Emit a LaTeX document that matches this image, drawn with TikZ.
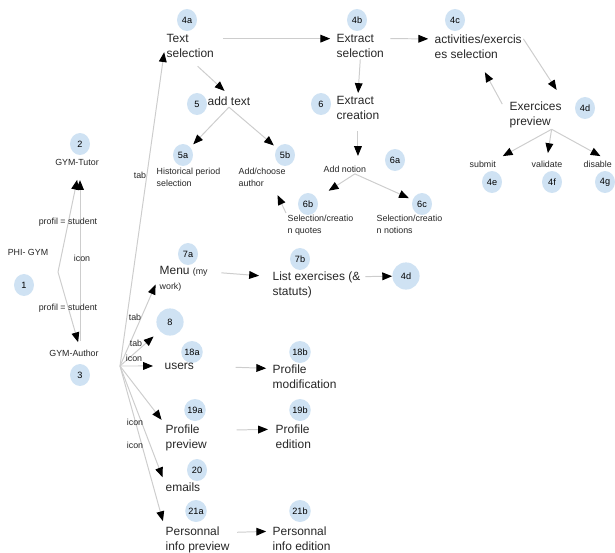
\documentclass[tikz,border=0pt]{standalone}
\usepackage{fontspec}
\setmainfont{Liberation Sans}
\usetikzlibrary{arrows.meta,shapes.geometric,backgrounds}
\definecolor{gymBlue}{RGB}{207,226,243}
\definecolor{gymGray}{RGB}{205,205,205}
\newcommand{\gymsmall}{\fontsize{6.3}{8}\selectfont}
\begin{document}
\begin{tikzpicture}[
    x=0.025cm,y=-0.025cm,
    gymBadge/.style={ellipse,fill=gymBlue,minimum width=0.5cm,minimum height=0.55cm,inner sep=0pt,font=\fontsize{6.5}{7}\selectfont},
    gymBig/.style={circle,fill=gymBlue,minimum size=0.68cm,inner sep=0pt,font=\fontsize{6.5}{7}\selectfont},
    gymText/.style={anchor=north west,align=left,inner sep=1pt,text=black!85,font=\fontsize{8.5}{10.5}\selectfont},
    gymSmall/.style={anchor=north west,align=left,inner sep=1pt,text=black!85,font=\fontsize{6.3}{8.5}\selectfont},
    gymLbl/.style={inner sep=0.5pt,text=black!85,font=\gymsmall},
    gymArrow/.style={draw=gymGray,line width=0.7pt,-{Triangle[length=7pt,width=5.5pt,color=black]}},
]
\useasboundingbox (0,0) rectangle (615,552);
% left: entry point and the two profiles
\node[gymLbl] (gymPhiLbl) at (28,252) {PHI- GYM};
\node[gymBadge] (gymB1) at (24,285) {1};
\node[gymBadge] (gymB2) at (80,144) {2};
\node[gymLbl] (gymTutor) at (77,162) {GYM-Tutor};
\node[gymLbl] (gymAuthor) at (74,353) {GYM-Author};
\node[gymBadge] (gymB3) at (80,375) {3};
\coordinate (gymPhi) at (58,272);
\coordinate (gymHub) at (120,366);
% top row
\node[gymText] (gymTextSel) at (165,33) {Text\\selection};
\node[gymBadge] (gymB4a) at (187,20) {4a};
\node[gymText] (gymExtractSel) at (335,33) {Extract\\selection};
\node[gymBadge] (gymB4b) at (357,20) {4b};
\node[gymText] (gymActSel) at (433,33) {activities/exercis\\es selection};
\node[gymBadge] (gymB4c) at (455,20) {4c};
\node[gymText] (gymPreview) at (508,100) {Exercices\\preview};
\node[gymBadge] (gymB4d) at (585,108) {4d};
\node[gymSmall] (gymSubmit) at (468,159) {submit};
\node[gymSmall] (gymValidate) at (530,159) {validate};
\node[gymSmall] (gymDisable) at (582,159) {disable};
\node[gymBadge] (gymB4e) at (492,182) {4e};
\node[gymBadge] (gymB4f) at (552,182) {4f};
\node[gymBadge] (gymB4g) at (605,182) {4g};
% text and extract branches
\node[gymText] (gymAddText) at (206,95) {add text};
\node[gymBadge] (gymB5) at (197,104) {5};
\node[gymBadge] (gymB5a) at (183,155) {5a};
\node[gymSmall] (gymPeriod) at (155,166) {Historical period\\selection};
\node[gymBadge] (gymB5b) at (285,155) {5b};
\node[gymSmall] (gymAuthorSel) at (237,166) {Add/choose\\author};
\node[gymText] (gymExtractCre) at (335,95) {Extract\\creation};
\node[gymBadge] (gymB6) at (321,104) {6};
\node[gymSmall] (gymAddNotion) at (322,164) {Add notion};
\node[gymBadge] (gymB6a) at (395,160) {6a};
\node[gymBadge] (gymB6b) at (308,204) {6b};
\node[gymSmall] (gymQuotes) at (286,213) {Selection/creatio\\n quotes};
\node[gymBadge] (gymB6c) at (422,204) {6c};
\node[gymSmall] (gymNotions) at (375,213) {Selection/creatio\\n notions};
% menu row
\node[gymBadge] (gymB7a) at (188,254) {7a};
\node[gymText] (gymMenu) at (158,265) {Menu {\gymsmall(my}\\{\gymsmall work)}};
\node[gymBadge] (gymB7b) at (300,259) {7b};
\node[gymText] (gymList) at (271,270) {List exercises (\&\\statuts)};
\node[gymBig] (gymB4dBig) at (406,276) {4d};
\node[gymBig] (gymB8) at (170,322) {8};
% user tools
\node[gymBadge] (gymB18a) at (192,352) {18a};
\node[gymText] (gymUsers) at (163,361) {users};
\node[gymBadge] (gymB18b) at (300,352) {18b};
\node[gymText] (gymProfMod) at (271,363) {Profile\\modification};
\node[gymBadge] (gymB19a) at (195,410) {19a};
\node[gymText] (gymProfPrev) at (164,423) {Profile\\preview};
\node[gymBadge] (gymB19b) at (300,410) {19b};
\node[gymText] (gymProfEd) at (274,423) {Profile\\edition};
\node[gymBadge] (gymB20) at (197,470) {20};
\node[gymText] (gymEmails) at (164,481) {emails};
\node[gymBadge] (gymB21a) at (196,511) {21a};
\node[gymText] (gymPersPrev) at (164,525) {Personnal\\info preview};
\node[gymBadge] (gymB21b) at (300,511) {21b};
\node[gymText] (gymPersEd) at (271,525) {Personnal\\info edition};
% edge labels
\node[gymLbl] (gymLblProfA) at (68,222) {profil = student};
\node[gymLbl] (gymLblIcon) at (82,258) {icon};
\node[gymLbl] (gymLblProfB) at (68,308) {profil = student};
\node[gymLbl] (gymLblTabA) at (140,175) {tab};
\node[gymLbl] (gymLblTabB) at (135,317) {tab};
\node[gymLbl] (gymLblTabC) at (136,343) {tab};
\node[gymLbl] (gymLblIconA) at (134,358) {icon};
\node[gymLbl] (gymLblIconB) at (135,422) {icon};
\node[gymLbl] (gymLblIconC) at (135,445) {icon};
\begin{scope}[on background layer]
\draw[gymArrow,shorten >=0.35cm] (gymPhi) -- (gymB2 |- gymTutor.south);
\draw[gymArrow,shorten >=0.17cm] (gymPhi) -- (gymB3 |- gymAuthor.north);
\draw[gymArrow,shorten <=0.2cm,shorten >=0.35cm] (gymB3 |- gymAuthor.north) -- (gymB2 |- gymTutor.south);
\draw[gymArrow,shorten >=0.15cm] (gymHub) -- (gymTextSel.west);
\draw[gymArrow,shorten >=0.15cm] (gymHub) -- (gymMenu.west);
\draw[gymArrow,shorten >=0.2cm] (gymHub) -- (gymB8);
\draw[gymArrow,shorten >=0.25cm] (gymHub) -- (gymUsers.west);
\draw[gymArrow,shorten >=0.1cm] (gymHub) -- (gymProfPrev.north west);
\draw[gymArrow,shorten >=0.1cm] (gymHub) -- (gymEmails.north west);
\draw[gymArrow,shorten >=0.1cm] (gymHub) -- (gymPersPrev.north west);
\draw[gymArrow,shorten <=0.18cm,shorten >=0.12cm] ([yshift=0.19cm]gymTextSel.east) -- ([yshift=0.19cm]gymExtractSel.west);
\draw[gymArrow,shorten <=0.12cm,shorten >=0.12cm] ([yshift=0.19cm]gymExtractSel.east) -- ([yshift=0.19cm]gymActSel.west);
\draw[gymArrow,shorten >=0.3cm] ([yshift=0.19cm]gymActSel.east) -- (gymPreview.north east);
\draw[gymArrow,shorten <=0.3cm,shorten >=0.35cm] (gymPreview.west) -- (gymActSel.south);
\draw[gymArrow,shorten >=0.15cm] ([xshift=0.4cm]gymPreview.south) -- (gymSubmit.north east);
\draw[gymArrow,shorten >=0.15cm] ([xshift=0.4cm]gymPreview.south) -- (gymValidate.north);
\draw[gymArrow,shorten >=0.15cm] ([xshift=0.4cm]gymPreview.south) -- ([xshift=0.2cm]gymDisable.north);
\draw[gymArrow,shorten <=0.25cm,shorten >=0.15cm] (gymTextSel.south) -- (gymAddText.north);
\draw[gymArrow,shorten >=0.1cm] (gymAddText.south) -- (gymB5a);
\draw[gymArrow,shorten >=0.1cm] (gymAddText.south) -- (gymB5b);
\draw[gymArrow,shorten >=0.05cm] (gymExtractSel.south) -- (gymExtractCre.north);
\draw[gymArrow,shorten <=0.25cm,shorten >=0.2cm] (gymExtractCre.south) -- (gymExtractCre.south |- gymAddNotion.north);
\draw[gymArrow,shorten >=0.35cm] ([xshift=0.25cm]gymAddNotion.south) -- (gymB6b);
\draw[gymArrow,shorten >=0.1cm] ([xshift=0.25cm]gymAddNotion.south) -- (gymB6c);
\draw[gymArrow,shorten >=0.2cm] (gymQuotes.north west) -- ([xshift=0.3cm]gymAuthorSel.south);
\draw[gymArrow,shorten <=0.3cm,shorten >=0.3cm] ([yshift=0.18cm]gymMenu.east) -- ([yshift=0.2cm]gymList.west);
\draw[gymArrow,shorten <=0.08cm] ([yshift=0.2cm]gymList.east) -- (gymB4dBig);
\draw[gymArrow,shorten <=1cm,shorten >=0.12cm] (gymUsers.east) -- ([yshift=0.2cm]gymProfMod.west);
\draw[gymArrow,shorten <=0.7cm,shorten >=0.15cm] ([yshift=0.18cm]gymProfPrev.east) -- ([yshift=0.18cm]gymProfEd.west);
\draw[gymArrow,shorten <=0.15cm,shorten >=0.12cm] ([yshift=0.18cm]gymPersPrev.east) -- ([yshift=0.18cm]gymPersEd.west);
\end{scope}
\end{tikzpicture}
\end{document}
